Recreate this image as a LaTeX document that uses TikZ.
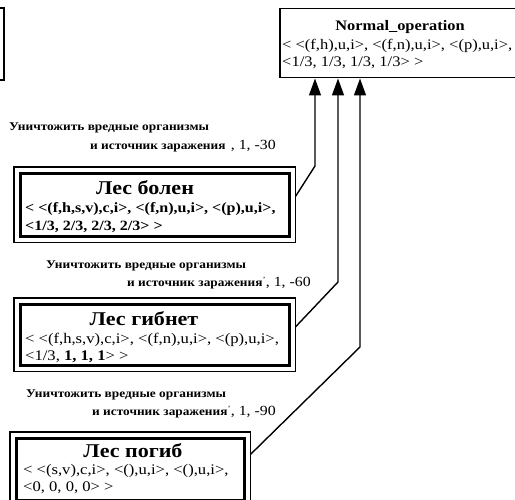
\documentclass[tikz,border=0pt]{standalone}
\usepackage{fontspec}
\setmainfont{Liberation Serif}[FakeStretch=1.13]
\usetikzlibrary{arrows.meta,calc}
\tikzset{
  txt/.style={inner sep=0pt, anchor=base west, font=\fontsize{14.7}{17}\selectfont},
  ttxt/.style={txt, font=\fontsize{14.6}{17}\selectfont},
  btxt/.style={txt, font=\bfseries\fontsize{14.2}{17}\selectfont},
  ttl/.style={inner sep=0pt, anchor=base, font=\bfseries\fontsize{19.5}{21}\selectfont},
  lbl/.style={inner sep=0pt, anchor=base west, font=\bfseries\fontsize{11.8}{14}\selectfont},
  sfx/.style={inner sep=0pt, anchor=base west, font=\fontsize{14}{16}\selectfont},
  inbox/.style={draw, line width=2.6pt, anchor=north west, inner sep=0pt},
  outbox/.style={draw, line width=1.1pt},
  conn/.style={line width=1.4pt, -{Triangle[width=12pt,length=17pt]}, line join=miter},
}
\begin{document}
\begin{tikzpicture}[x=1pt,y=-1pt]
\useasboundingbox (0,0) rectangle (515,500);
% partial box at top left
\draw[line width=2pt] (0,8) -- (4,8) -- (4,80) -- (0,80);
% top box
\node[draw, line width=1.5pt, anchor=north west, inner sep=0pt, minimum width=245pt, minimum height=69pt] (top) at (279,8) {};
\node[inner sep=0pt, anchor=base, font=\bfseries\fontsize{14.5}{16}\selectfont] (t0) at (400,31) {Normal\_operation};
\node[ttxt] (t1) at (282,50) {< <(f,h),u,i>, <(f,n),u,i>, <(p),u,i>,};
\node[ttxt] (t2) at (282,67) {<1/3, 1/3, 1/3, 1/3> >};
% label 1 and box 1
\node[lbl] (l1a) at (9,131) {Уничтожить вредные организмы};
\node[lbl] (l1b) at (90,150) {и источник заражения};
\node[sfx] (l1c) at ([xshift=5pt]l1b.base east) {, 1, -30};
\node[inbox, minimum width=269pt, minimum height=63pt] (b1) at (19,172) {};
\draw[outbox] ([shift={(-5,-5)}]b1.north west) rectangle ([shift={(5,5)}]b1.south east);
\node[ttl] (b1t) at (145,195) {Лес болен};
\node[btxt] (b1a) at (25,213) {< <(f,h,s,v),c,i>, <(f,n),u,i>, <(p),u,i>,};
\node[btxt] (b1b) at (25,231) {<1/3, 2/3, 2/3, 2/3> >};
% label 2 and box 2
\node[lbl] (l2a) at (46,269) {Уничтожить вредные организмы};
\node[lbl] (l2b) at (127,287) {и источник заражения{\mdseries\fontsize{8}{8}\selectfont\raisebox{4pt}{'}}};
\node[sfx] (l2c) at (l2b.base east) {, 1, -60};
\node[inbox, minimum width=269pt, minimum height=61pt] (b2) at (19,303) {};
\draw[outbox] ([shift={(-5,-5)}]b2.north west) rectangle ([shift={(5,5)}]b2.south east);
\node[ttl] (b2t) at (144,326) {Лес гибнет};
\node[txt] (b2a) at (25,344) {< <(f,h,s,v),c,i>, <(f,n),u,i>, <(p),u,i>,};
\node[txt] (b2b) at (25,361) {<1/3, \textbf{1, 1, 1}> >};
% label 3 and box 3
\node[lbl] (l3a) at (26,398) {Уничтожить вредные организмы};
\node[lbl] (l3b) at (92,415) {и источник заражения{\mdseries\fontsize{8}{8}\selectfont\raisebox{4pt}{'}}};
\node[sfx] (l3c) at (l3b.base east) {, 1, -90};
\node[inbox, minimum width=228pt, minimum height=62pt] (b3) at (15,437) {};
\draw[outbox] ([shift={(-5,-5)}]b3.north west) rectangle ([shift={(5,5)}]b3.south east);
\node[ttl] (b3t) at (133,457) {Лес погиб};
\node[txt] (b3a) at (23,475) {< <(s,v),c,i>, <(),u,i>, <(),u,i>,};
\node[txt] (b3b) at (23,491) {<0, 0, 0, 0> >};
% connectors
\coordinate (k1) at (315,166);
\coordinate (k2) at (338,282);
\coordinate (k3) at (360,347);
\draw[conn] ([shift={(5,-8.5)}]b1.east) -- (k1) -- (k1 |- top.south);
\draw[conn] ([shift={(5,-8)}]b2.east) -- (k2) -- (k2 |- top.south);
\draw[conn] ([shift={(5,-15)}]b3.east) -- (k3) -- (k3 |- top.south);
\end{tikzpicture}
\end{document}
